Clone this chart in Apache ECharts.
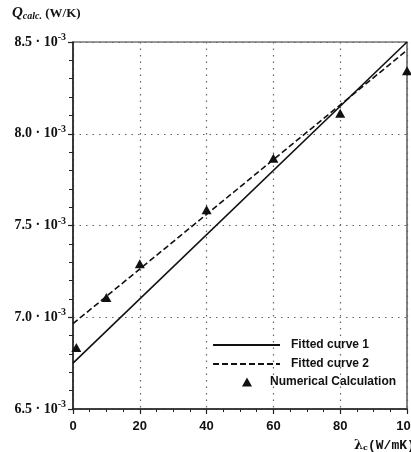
<!DOCTYPE html>
<html>
<head>
<meta charset="utf-8">
<script src="https://cdn.jsdelivr.net/npm/echarts@6/dist/echarts.min.js"></script>
<style>
html, body { margin: 0; padding: 0; background: #fff; }
#chart { width: 411px; height: 452px; }
</style>
</head>
<body>
<div id="chart"></div>
<script>
// Numerical calculation results: heat flow vs. conductivity
const lambdaNum = [1, 10, 20, 40, 60, 80, 100];
const qNum = [6.835e-3, 7.108e-3, 7.291e-3, 7.586e-3, 7.867e-3, 8.112e-3, 8.344e-3];

// Fitted straight lines (end points)
const fit1Lambda = [0, 100];
const fit1Q = [6.75e-3, 8.50e-3];
const fit2Lambda = [0, 100];
const fit2Q = [6.965e-3, 8.455e-3];

// Axis ticks
const xTicks = [0, 20, 40, 60, 80, 100];
const yTicks = [6.5e-3, 7.0e-3, 7.5e-3, 8.0e-3, 8.5e-3];

const seriesNames = ['Fitted curve 1', 'Fitted curve 2', 'Numerical Calculation'];

const pairs = (xs, ys) => xs.map((x, i) => [x, ys[i]]);

const chart = echarts.init(document.getElementById('chart'), null, { renderer: 'canvas' });

const ink = '#111';
const legendText = { fontFamily: 'Liberation Sans', fontWeight: 'bold', fontSize: 12, color: ink };

chart.setOption({
  animation: false,
  backgroundColor: '#fff',
  grid: {
    left: 73, right: 4, top: 42, bottom: 43,
    outerBoundsMode: 'none', containLabel: false,
    show: true, borderColor: '#333', borderWidth: 1.2, backgroundColor: 'transparent'
  },
  xAxis: {
    type: 'value',
    min: xTicks[0], max: xTicks[xTicks.length - 1], interval: xTicks[1] - xTicks[0],
    axisLine: { lineStyle: { color: '#222', width: 1.5 } },
    axisTick: { show: true, inside: false, length: 5, lineStyle: { color: '#222', width: 1.2 } },
    minorTick: { show: true, splitNumber: 4, length: 3, lineStyle: { color: '#222', width: 1 } },
    splitLine: { show: true, lineStyle: { color: '#666', width: 1.2, type: [1.5, 5] } },
    axisLabel: {
      margin: 11, color: ink, fontFamily: 'Liberation Sans', fontWeight: 'bold', fontSize: 13,
      showMaxLabel: true, hideOverlap: false
    }
  },
  yAxis: {
    type: 'value',
    min: yTicks[0], max: yTicks[yTicks.length - 1], interval: 0.5e-3,
    axisLine: { show: true, lineStyle: { color: '#222', width: 1.5 } },
    axisTick: { show: true, inside: false, length: 5, lineStyle: { color: '#222', width: 1.2 } },
    minorTick: { show: true, splitNumber: 5, length: 4, lineStyle: { color: '#222', width: 1 } },
    splitLine: { show: true, lineStyle: { color: '#666', width: 1.2, type: [1.5, 5] } },
    axisLabel: {
      margin: 7,
      formatter: v => '{m|' + (v * 1e3).toFixed(1) + ' · 10}{s|-3}',
      rich: {
        m: { fontFamily: 'Liberation Serif', fontWeight: 'bold', fontSize: 14, color: ink },
        s: { fontFamily: 'Liberation Serif', fontWeight: 'bold', fontSize: 10, color: ink, padding: [0, 0, 9, 0] }
      }
    }
  },
  legend: [
    {
      data: [seriesNames[0]], left: 207, top: 334, itemWidth: 67, itemHeight: 14,
      itemStyle: { opacity: 0 },
      textStyle: Object.assign({ padding: [0, 0, 0, 6] }, legendText)
    },
    {
      data: [seriesNames[1]], left: 207, top: 353, itemWidth: 67, itemHeight: 14,
      itemStyle: { opacity: 0 },
      textStyle: Object.assign({ padding: [0, 0, 0, 6] }, legendText)
    },
    {
      data: [{ name: seriesNames[2], icon: 'triangle' }], left: 237, top: 371, itemWidth: 10, itemHeight: 9,
      textStyle: Object.assign({ padding: [0, 0, 0, 13] }, legendText)
    }
  ],
  series: [
    {
      name: seriesNames[0], type: 'line', symbol: 'none',
      data: pairs(fit1Lambda, fit1Q),
      lineStyle: { color: '#111', width: 1.6, type: 'solid' },
      itemStyle: { color: '#111' }
    },
    {
      name: seriesNames[1], type: 'line', symbol: 'none',
      data: pairs(fit2Lambda, fit2Q),
      lineStyle: { color: '#111', width: 1.6, type: [6, 3] },
      itemStyle: { color: '#111' }
    },
    {
      name: seriesNames[2], type: 'scatter', symbol: 'triangle', symbolSize: [10, 9],
      data: pairs(lambdaNum, qNum),
      itemStyle: { color: '#111', opacity: 1 }
    }
  ],
  graphic: [
    {
      type: 'text', left: 12, top: 6,
      style: {
        text: '{q|Q}{c|calc.}{u| (W/K)}',
        rich: {
          q: { fontFamily: 'Liberation Serif', fontStyle: 'italic', fontWeight: 'bold', fontSize: 15, fill: ink },
          c: { fontFamily: 'Liberation Serif', fontStyle: 'italic', fontWeight: 'bold', fontSize: 10, fill: ink, padding: [6, 0, 0, 0] },
          u: { fontFamily: 'Liberation Serif', fontWeight: 'bold', fontSize: 13, fill: ink }
        }
      }
    },
    {
      type: 'text', left: 354, top: 439,
      style: {
        text: '{l|λ}{c|c}{u|(W/mK)}',
        rich: {
          l: { fontFamily: 'DejaVu Serif', fontWeight: 'bold', fontSize: 13, fill: ink },
          c: { fontFamily: 'DejaVu Serif', fontWeight: 'bold', fontSize: 8, fill: ink, padding: [5, 0, 0, 0] },
          u: { fontFamily: 'Liberation Mono', fontWeight: 'bold', fontSize: 13, fill: ink }
        }
      }
    }
  ]
});
</script>
</body>
</html>
